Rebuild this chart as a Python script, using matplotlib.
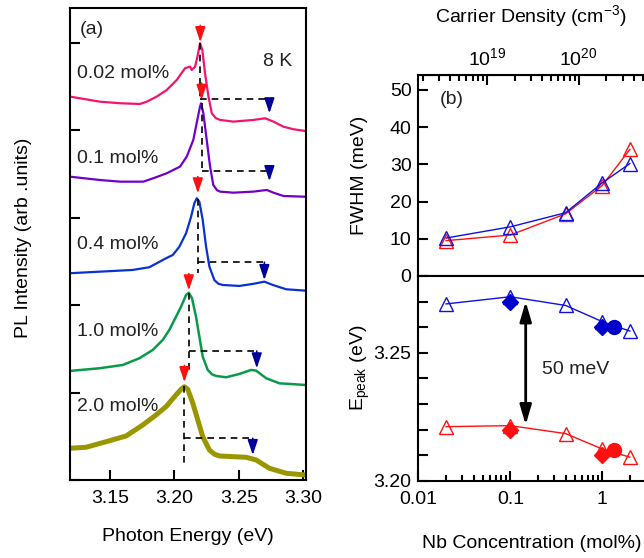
import matplotlib
matplotlib.use('Agg')
import matplotlib.pyplot as plt
from matplotlib.ticker import MultipleLocator, FuncFormatter, NullFormatter, FixedLocator

plt.rcParams['font.family'] = ['Liberation Sans', 'DejaVu Sans']
plt.rcParams['font.size'] = 14
plt.rcParams['mathtext.default'] = 'regular'

# ---- (a) PL spectra, offset vertically ----
labels = ['0.02 mol%', '0.1 mol%', '0.4 mol%', '1.0 mol%', '2.0 mol%']
colors = ['#f2146e', '#7000cc', '#0a32d0', '#0a9a4a', '#9a9600']
widths = [1.6, 1.6, 1.6, 1.8, 3.6]

E_002 = [3.1190, 3.1267, 3.1422, 3.1578, 3.1733, 3.1785, 3.1862, 3.1940, 3.2018, 3.2082,
         3.2121, 3.2134, 3.2160, 3.2181, 3.2198, 3.2216, 3.2237, 3.2263, 3.2289, 3.2320,
         3.2354, 3.2457, 3.2612, 3.2703, 3.2767, 3.2845, 3.2922, 3.3013]
I_002 = [4.386, 4.367, 4.328, 4.310, 4.302, 4.328, 4.386, 4.462, 4.577, 4.711,
         4.729, 4.691, 4.729, 4.863, 4.997, 4.920, 4.653, 4.392, 4.196, 4.140,
         4.119, 4.100, 4.119, 4.138, 4.100, 4.042, 4.013, 3.993]

E_01 = [3.1190, 3.1422, 3.1578, 3.1758, 3.1836, 3.1940, 3.2043, 3.2095, 3.2146, 3.2177,
        3.2198, 3.2206, 3.2224, 3.2250, 3.2276, 3.2301, 3.2330, 3.2354, 3.2457, 3.2612,
        3.2716, 3.2767, 3.2845, 3.3013]
I_01 = [3.470, 3.432, 3.413, 3.413, 3.452, 3.509, 3.585, 3.699, 3.890, 4.119,
        4.271, 4.310, 4.196, 3.890, 3.585, 3.375, 3.315, 3.299, 3.287, 3.299,
        3.318, 3.287, 3.249, 3.241]

E_04 = [3.1184, 3.1417, 3.1676, 3.1805, 3.1935, 3.1987, 3.2038, 3.2090, 3.2129, 3.2154,
        3.2173, 3.2193, 3.2219, 3.2245, 3.2271, 3.2309, 3.2340, 3.2375, 3.2503, 3.2607,
        3.2697, 3.2763, 3.2866, 3.3016]
I_04 = [2.365, 2.383, 2.403, 2.434, 2.537, 2.574, 2.669, 2.823, 3.013, 3.166,
        3.223, 3.184, 2.975, 2.669, 2.440, 2.288, 2.245, 2.231, 2.220, 2.243,
        2.269, 2.231, 2.182, 2.166]

E_10 = [3.1184, 3.1417, 3.1599, 3.1727, 3.1831, 3.1909, 3.1960, 3.2012, 3.2051, 3.2090,
        3.2111, 3.2136, 3.2167, 3.2193, 3.2219, 3.2258, 3.2290, 3.2323, 3.2400, 3.2503,
        3.2594, 3.2633, 3.2711, 3.2814, 3.3016]
I_10 = [1.247, 1.278, 1.316, 1.392, 1.487, 1.602, 1.716, 1.868, 1.983, 2.117,
        2.143, 2.079, 1.868, 1.640, 1.411, 1.259, 1.210, 1.190, 1.175, 1.213,
        1.259, 1.251, 1.164, 1.106, 1.087]

E_20 = [3.1184, 3.1314, 3.1469, 3.1624, 3.1754, 3.1857, 3.1935, 3.2012, 3.2051, 3.2077,
        3.2103, 3.2142, 3.2181, 3.2219, 3.2271, 3.2310, 3.2348, 3.2452, 3.2555, 3.2633,
        3.2736, 3.2866, 3.3016]
I_20 = [0.363, 0.374, 0.438, 0.503, 0.629, 0.744, 0.839, 0.973, 1.038, 1.067,
        1.038, 0.878, 0.686, 0.495, 0.343, 0.295, 0.275, 0.267, 0.260, 0.229,
        0.134, 0.077, 0.057]

spectra = [(E_002, I_002), (E_01, I_01), (E_04, I_04), (E_10, I_10), (E_20, I_20)]

# peak / shoulder markers
peak_E = [3.2200, 3.2210, 3.2181, 3.2111, 3.2077]
peak_top = [5.00, 4.31, 3.22, 2.14, 1.07]
red_tip = [5.01, 4.35, 3.28, 2.17, 1.12]
dash_bottom = [4.356, 3.539, 2.365, 1.259, 0.195]
dash_level = [4.356, 3.539, 2.491, 1.476, 0.477]
shoulder_E = [3.2736, 3.2736, 3.2697, 3.2638, 3.2607]
blue_tip = [4.196, 3.42, 2.288, 1.278, 0.286]
label_y = [4.653, 3.681, 2.689, 1.697, 0.839]

# ---- (b) FWHM and peak energies vs Nb concentration ----
conc = [0.02, 0.1, 0.4, 1.0, 2.0]
fwhm_red = [9.5, 11.0, 16.7, 24.3, 34.0]
fwhm_blue = [10.2, 13.2, 17.0, 25.0, 30.2]
epeak_red = [3.2212, 3.2216, 3.2185, 3.2125, 3.2093]
epeak_blue = [3.2691, 3.2719, 3.2685, 3.2622, 3.2585]
conc_dia = [0.1, 1.0]
epeak_red_dia = [3.2198, 3.2102]
epeak_blue_dia = [3.2697, 3.2600]
conc_circ = [1.36]
epeak_red_circ = [3.2120]
epeak_blue_circ = [3.2600]
carrier_per_mol = 1.8e20

arrow_head = '-|>,head_length=0.65,head_width=0.22'

fig = plt.figure(figsize=(6.44, 5.58), dpi=100)

ax = fig.add_axes([0.1087, 0.1398, 0.3665, 0.8459])
for (e, i), c, w in zip(spectra, colors, widths):
    ax.plot(e, i, color=c, lw=w, solid_joinstyle='round')
for k in range(5):
    ax.plot([peak_E[k], peak_E[k]], [peak_top[k], dash_bottom[k]], color='k', lw=1.2, dashes=(4, 3))
    ax.plot([peak_E[k], shoulder_E[k]], [dash_level[k], dash_level[k]], color='k', lw=1.2, dashes=(4, 3))
    ax.annotate('', xy=(peak_E[k], red_tip[k]), xytext=(0, 12), textcoords='offset points',
                arrowprops=dict(arrowstyle=arrow_head, color='#ff1010',
                                lw=1.2, shrinkA=0, shrinkB=0))
    ax.annotate('', xy=(shoulder_E[k], blue_tip[k]), xytext=(shoulder_E[k], dash_level[k]),
                arrowprops=dict(arrowstyle=arrow_head, color='#000099',
                                lw=1.2, shrinkA=0, shrinkB=0))
    ax.text(3.1244, label_y[k], labels[k], va='center', ha='left', color='#222222')
ax.text(3.1267, 5.149, '(a)', va='center', ha='left', color='#222222')
ax.text(3.2687, 4.786, '8 K', va='center', ha='left', color='#222222')

ax.set_xlim(3.119, 3.302)
ax.set_ylim(0, 5.40)
ax.set_xticks([3.15, 3.20, 3.25, 3.30])
ax.xaxis.set_major_formatter(FuncFormatter(lambda v, p: '%.2f' % v))
ax.set_yticks([0, 1, 2, 3, 4, 5])
ax.tick_params(axis='y', labelleft=False)
ax.tick_params(direction='in', length=7, width=1.5, pad=7)
ax.set_xlabel('Photon Energy (eV)')
ax.xaxis.set_label_coords(0.5, -0.102)
ax.set_ylabel('PL Intensity (arb .units)')
ax.yaxis.set_label_coords(-0.161, 0.513)
for s in ax.spines.values():
    s.set_linewidth(1.5)

# upper: FWHM
axf = fig.add_axes([0.6498, 0.5054, 0.3533, 0.3602])
axf.plot(conc, fwhm_red, color='#ff1010', lw=1, marker='^', ms=10, mfc='none', mew=1)
axf.plot(conc, fwhm_blue, color='#1010e0', lw=1, marker='^', ms=10, mfc='none', mew=1)
axf.set_xscale('log')
axf.set_xlim(0.01, 3)
axf.set_ylim(0, 54)
axf.yaxis.set_major_locator(MultipleLocator(10))
axf.tick_params(axis='x', which='both', bottom=False, labelbottom=False)
axf.tick_params(axis='y', direction='in', length=7, width=1.5, pad=5)
axf.set_ylabel('FWHM (meV)')
axf.yaxis.set_label_coords(-0.222, 0.5)
axf.text(0.017, 47.5, '(b)', va='center', ha='left', color='#222222')
for s in axf.spines.values():
    s.set_linewidth(1.5)

sec = axf.secondary_xaxis('top', functions=(lambda c: c * carrier_per_mol,
                                             lambda n: n / carrier_per_mol))
sec.xaxis.set_major_locator(FixedLocator([1e19, 1e20]))
sec.tick_params(which='major', direction='in', length=7, width=1.5, pad=4)
sec.tick_params(which='minor', direction='in', length=4, width=1.5)
sec.xaxis.set_minor_formatter(NullFormatter())
fig.text(531 / 644, 1 - 16 / 558, 'Carrier Density (cm$^{-3}$)', ha='center', va='center')

# lower: peak energies
axe = fig.add_axes([0.6498, 0.1380, 0.3533, 0.3674])
axe.plot(conc, epeak_blue, color='#1010e0', lw=1, marker='^', ms=10, mfc='none', mew=1)
axe.plot(conc, epeak_red, color='#ff1010', lw=1, marker='^', ms=10, mfc='none', mew=1)
axe.plot(conc_dia, epeak_blue_dia, ls='none', marker='D', ms=8, color='#0000cc')
axe.plot(conc_dia, epeak_red_dia, ls='none', marker='D', ms=8, color='#ff1010')
axe.plot(conc_circ, epeak_blue_circ, ls='none', marker='o', ms=10, color='#0000cc')
axe.plot(conc_circ, epeak_red_circ, ls='none', marker='o', ms=10, color='#ff1010')
axe.annotate('', xy=(0.147, 3.2219), xytext=(0.147, 3.2700),
             arrowprops=dict(arrowstyle='<|-|>,head_length=0.85,head_width=0.25', color='k',
                             lw=2, shrinkA=0, shrinkB=0))
axe.text(0.221, 3.2434, '50 meV', va='center', ha='left', color='#222222')
axe.set_xscale('log')
axe.set_xlim(0.01, 3)
axe.set_ylim(3.20, 3.28)
axe.xaxis.set_major_locator(FixedLocator([0.01, 0.1, 1]))
axe.xaxis.set_major_formatter(FuncFormatter(lambda v, p: '%g' % v))
axe.xaxis.set_minor_formatter(NullFormatter())
axe.yaxis.set_major_locator(MultipleLocator(0.05))
axe.yaxis.set_minor_locator(MultipleLocator(0.01))
axe.yaxis.set_major_formatter(FuncFormatter(lambda v, p: '%.2f' % v))
axe.tick_params(which='major', direction='in', length=7, width=1.5, pad=7)
axe.tick_params(axis='x', which='minor', direction='in', length=4, width=1.5)
axe.tick_params(axis='y', which='minor', direction='in', length=7, width=1.5)
axe.tick_params(axis='y', pad=5)
axe.set_xlabel('Nb Concentration (mol%)')
axe.xaxis.set_label_coords(0.5, -0.263)
axe.set_ylabel('E$_{peak}$ (eV)')
axe.yaxis.set_label_coords(-0.204, 0.55)
for s in axe.spines.values():
    s.set_linewidth(1.5)

fig.savefig('out.png', dpi=100)
